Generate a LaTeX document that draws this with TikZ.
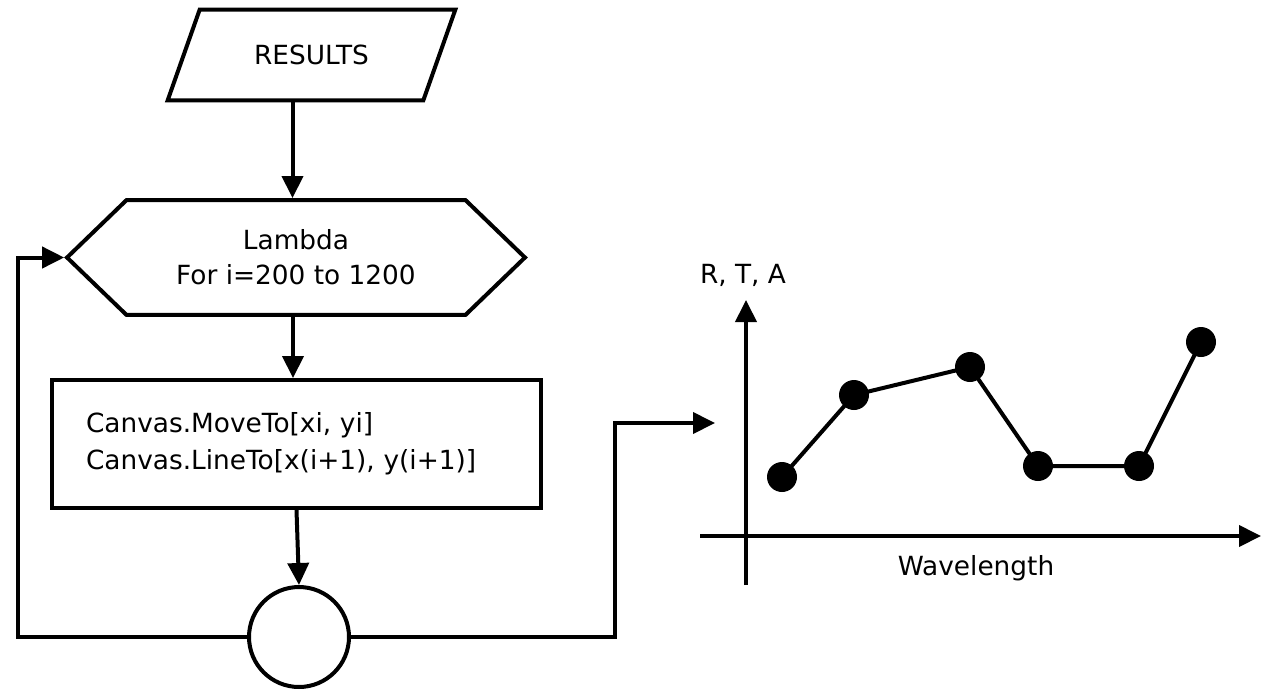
\documentclass[tikz,border=0pt]{standalone}
\usepackage{fontspec}
\setmainfont{DejaVu Sans}
\usetikzlibrary{arrows.meta,shapes.geometric,shapes.symbols}

\tikzset{
  flow/.style={line width=0.08cm, -{Triangle[length=0.44cm,width=0.42cm]}},
  block/.style={draw, line width=0.08cm, font=\fontsize{15}{21}\selectfont},
  iobox/.style={rectangle, minimum width=5.1cm, minimum height=1.8cm},
  loopbox/.style={block, signal, signal to=west and east, signal pointer angle=88,
    minimum width=9.16cm, minimum height=2.3cm, align=center, font=\fontsize{15}{20}\selectfont},
  procbox/.style={block, rectangle, minimum width=9.78cm, minimum height=2.56cm,
    text width=8.42cm, inner xsep=0.68cm, align=left},
  joinbox/.style={block, circle, minimum size=2cm},
}

\begin{document}
\begin{tikzpicture}[x=0.02cm, y=-0.02cm, font=\fontsize{15}{18}\selectfont]
  \useasboundingbox (0,0) rectangle (1262,691);

  % Flowchart
  \node[iobox] (results) at (311.5,55) {RESULTS};
  \draw[line width=0.08cm] ([xshift=0.32cm]results.north west) -- ([xshift=0.32cm]results.north east)
    -- ([xshift=-0.32cm]results.south east) -- ([xshift=-0.32cm]results.south west) -- cycle;
  \node[loopbox] (lambda) at (296,257.5) {Lambda\\For i=200 to 1200};
  \node[procbox] (canvas) at (296.5,444) {Canvas.MoveTo[xi, yi]\\Canvas.LineTo[x(i+1), y(i+1)]};
  \node[joinbox] (next) at (299,637) {};

  \draw[flow] ([xshift=-0.38cm]results.south) -- ([xshift=-0.38cm]results.south |- lambda.north);
  \draw[flow] ([xshift=-0.06cm]lambda.south) -- ([xshift=-0.06cm]lambda.south |- canvas.north);
  \draw[flow] (canvas.south) -- (next.north);

  % Back to the loop, and out to the plot
  \coordinate (plotin) at (715,423);
  \draw[flow] (next.west) -- (18,637) |- (lambda.west);
  \draw[flow] (next.east) -- (615,637) |- (plotin);

  % Coordinate axes
  \draw[flow] (700,536) -- (1261,536);
  \draw[flow] (746,585) -- (746,300);
  \node (rta) at (743,275) {R, T, A};
  \node (wl) at (976,568) {Wavelength};

  % Data points
  \draw[line width=0.08cm] plot coordinates {(782,477) (854,395) (970,367) (1038,466) (1139,466) (1201,342)};
  \foreach \px/\py in {782/477, 854/395, 970/367, 1038/466, 1139/466, 1201/342}{
    \fill (\px,\py) circle (15);
  }
\end{tikzpicture}
\end{document}
